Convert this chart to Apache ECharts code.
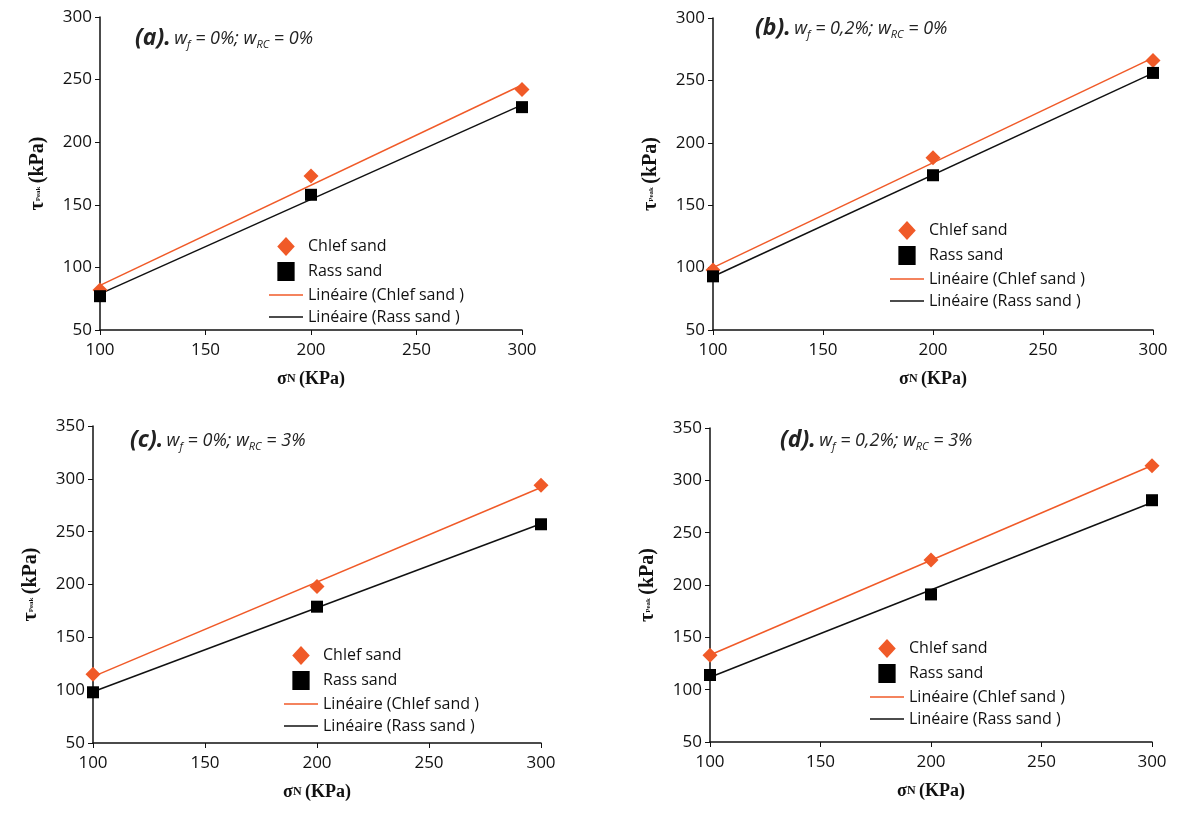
<!DOCTYPE html>
<html><head><meta charset="utf-8">
<script src="https://cdn.jsdelivr.net/npm/echarts@6/dist/echarts.min.js"></script>
<style>body{margin:0;background:#fff}#main{width:1182px;height:814px}</style>
</head><body><div id="main"></div>
<script>
var sigmaN = [100, 200, 300];
var chlefA = [82, 173, 242], rassA = [77, 158, 228];
var chlefB = [98, 188, 266], rassB = [93, 174, 256];
var chlefC = [115, 198, 294], rassC = [98, 179, 257];
var chlefD = [133, 224, 314], rassD = [114, 191, 281];
var labels = ['(a).', '(b).', '(c).', '(d).'];
var wf = ['0%', '0,2%', '0%', '0,2%'];
var wrc = ['0%', '0%', '3%', '3%'];

// boxes of the four plot areas
var boxes = [
  {left: 100, top: 17, width: 422, height: 313, ymax: 300, tx: 135, ty: 27, lx: 264, ly: 232},
  {left: 713, top: 18, width: 440, height: 312, ymax: 300, tx: 755, ty: 17, lx: 885, ly: 216},
  {left: 93, top: 426, width: 448, height: 317, ymax: 350, tx: 130, ty: 429, lx: 279, ly: 641},
  {left: 710, top: 428, width: 442, height: 314, ymax: 350, tx: 780, ty: 429, lx: 865, ly: 634}
];
var sets = [[chlefA, rassA], [chlefB, rassB], [chlefC, rassC], [chlefD, rassD]];

function fit(ys) {
  var n = sigmaN.length, mx = 0, my = 0, sxy = 0, sxx = 0;
  for (var i = 0; i < n; i++) { mx += sigmaN[i] / n; my += ys[i] / n; }
  for (var i = 0; i < n; i++) { sxy += (sigmaN[i] - mx) * (ys[i] - my); sxx += (sigmaN[i] - mx) * (sigmaN[i] - mx); }
  var b = sxy / sxx, a = my - b * mx;
  return [[100, a + b * 100], [300, a + b * 300]];
}

var grid = [], xAxis = [], yAxis = [], series = [], legend = [], graphic = [];
var axisText = {color: '#111', fontSize: 17, fontFamily: 'Open Sans'};
var names = ['Chlef sand', 'Rass sand', 'Linéaire (Chlef sand )', 'Linéaire (Rass sand )'];
var serif = {fontFamily: 'Liberation Serif', fontWeight: 'bold', color: '#111'};
boxes.forEach(function (b, k) {
  grid.push({left: b.left, top: b.top, width: b.width, height: b.height});
  xAxis.push({gridIndex: k, type: 'value', min: 100, max: 300, interval: 50,
    name: '{s|σ}{n|N} {s|(KPa)}', nameLocation: 'middle', nameGap: 40,
    nameTextStyle: {rich: {s: Object.assign({fontSize: 18}, serif), n: Object.assign({fontSize: 12}, serif)}},
    axisLine: {lineStyle: {color: '#111', width: 1.5}}, axisTick: {show: true, length: 5, lineStyle: {color: '#111'}},
    axisLabel: Object.assign({margin: 12}, axisText), splitLine: {show: false}});
  yAxis.push({gridIndex: k, type: 'value', min: 50, max: b.ymax, interval: 50,
    name: '{s|τ}{n|Peak} {s|(kPa)}', nameLocation: 'middle', nameGap: 52, nameRotate: 90,
    nameTextStyle: {rich: {s: Object.assign({fontSize: 20}, serif), n: Object.assign({fontSize: 7}, serif)}},
    axisLine: {show: true, onZero: false, lineStyle: {color: '#111', width: 1.5}}, axisTick: {show: true, length: 5, lineStyle: {color: '#111'}},
    axisLabel: Object.assign({margin: 8}, axisText), splitLine: {show: false}});
  var c = sets[k][0], r = sets[k][1];
  series.push({name: names[0], type: 'scatter', xAxisIndex: k, yAxisIndex: k, symbol: 'diamond', symbolSize: 15,
    itemStyle: {color: '#f05a28', opacity: 1}, data: sigmaN.map(function (x, i) { return [x, c[i]]; }), z: 3});
  series.push({name: names[1], type: 'scatter', xAxisIndex: k, yAxisIndex: k, symbol: 'rect', symbolSize: 12,
    itemStyle: {color: '#000', opacity: 1}, data: sigmaN.map(function (x, i) { return [x, r[i]]; }), z: 3});
  series.push({name: names[2], type: 'line', xAxisIndex: k, yAxisIndex: k, symbol: 'none',
    lineStyle: {color: '#f05a28', width: 1.5}, itemStyle: {color: '#f05a28'}, data: fit(c)});
  series.push({name: names[3], type: 'line', xAxisIndex: k, yAxisIndex: k, symbol: 'none',
    lineStyle: {color: '#111', width: 1.5}, itemStyle: {color: '#111'}, data: fit(r)});
  legend.push({left: b.lx, top: b.ly, orient: 'vertical', itemGap: 6, itemWidth: 34, itemHeight: 19,
    selectedMode: false, textStyle: {fontFamily: 'Open Sans', fontSize: 16, color: '#111'},
    data: [{name: names[0], icon: 'path://M17,3 L23,9.5 L17,16 L11,9.5 Z', itemStyle: {color: '#f05a28', opacity: 1}},
      {name: names[1], icon: 'path://M12,4 L22,4 L22,15 L12,15 Z', itemStyle: {color: '#000', opacity: 1}},
      {name: names[2], icon: 'path://M0,9 L34,9 L34,10.5 L0,10.5 Z'}, {name: names[3], icon: 'path://M0,9 L34,9 L34,10.5 L0,10.5 Z'}]});
  graphic.push({type: 'text', left: b.tx, top: b.ty, style: {
    rich: {
      a: {fontSize: 23, fontWeight: 'bold', fontStyle: 'italic', fontFamily: 'Open Sans', fill: '#222'},
      t: {fontSize: 18, fontStyle: 'italic', fontFamily: 'Open Sans', fill: '#222'},
      s: {fontSize: 11, fontStyle: 'italic', fontFamily: 'Open Sans', fill: '#222', verticalAlign: 'bottom', padding: [8, 0, 0, 0]}
    },
    text: '{a|' + labels[k] + '} {t|w}{s|f}{t| = ' + wf[k] + '; w}{s|RC}{t| = ' + wrc[k] + '}'
  }});
});

var myChart = echarts.init(document.getElementById('main'));
myChart.setOption({animation: false, grid: grid, xAxis: xAxis, yAxis: yAxis, series: series, legend: legend, graphic: graphic});
</script>
</body></html>
